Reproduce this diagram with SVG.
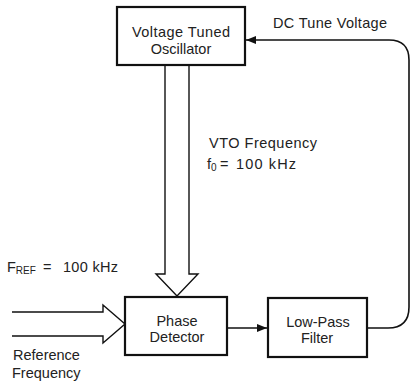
<svg xmlns="http://www.w3.org/2000/svg" width="411" height="381" viewBox="0 0 411 381">
<style>
text{font-family:"Liberation Sans",Arial,sans-serif;font-size:14.5px;fill:#222}
.sub{font-size:10px}
.box{fill:#fff;stroke:#111;stroke-width:2.2}
.line{fill:none;stroke:#111;stroke-width:1.6}
.hollow{fill:none;stroke:#111;stroke-width:1.4;stroke-linejoin:miter}
.c{text-anchor:middle}
</style>
<defs>
<marker id="ah" viewBox="0 0 10 8" refX="10" refY="4" markerWidth="10" markerHeight="8" markerUnits="userSpaceOnUse" orient="auto">
<path d="M0,0 L10,4 L0,8 Z" fill="#111"/>
</marker>
</defs>
<rect width="411" height="381" fill="#fff"/>
<g id="connectors">
<path class="hollow" d="M165,65 V274 H156 L177,296 L198,274 H189 V65"/>
<path class="hollow" d="M12,312 H103 V305 L125,324 L103,343 V336 H12"/>
<path class="line" d="M227,328 H267" marker-end="url(#ah)"/>
<path class="line" d="M367,328 H388 Q409,328 409,307 V60 Q409,40 389,40 H246" marker-end="url(#ah)"/>
</g>
<g id="vto">
<rect class="box" x="117" y="7" width="128" height="58"/>
<text class="c" x="181" y="37" textLength="98" lengthAdjust="spacing">Voltage Tuned</text>
<text class="c" x="181" y="54">Oscillator</text>
</g>
<g id="phase-detector">
<rect class="box" x="125" y="297" width="102" height="58"/>
<text class="c" x="177" y="326">Phase</text>
<text class="c" x="177" y="342">Detector</text>
</g>
<g id="low-pass-filter">
<rect class="box" x="268" y="298" width="99" height="59"/>
<text class="c" x="318" y="327">Low-Pass</text>
<text class="c" x="317" y="343">Filter</text>
</g>
<g id="labels">
<text x="273" y="28" textLength="114" lengthAdjust="spacing">DC Tune Voltage</text>
<text x="209" y="148" textLength="108" lengthAdjust="spacing">VTO Frequency</text>
<text x="207" y="169">f<tspan class="sub" dy="2">0</tspan></text>
<text x="220" y="169">=</text>
<text x="236" y="169" textLength="60" lengthAdjust="spacing">100 kHz</text>
<text x="7" y="272">F<tspan class="sub" dy="2">REF</tspan></text>
<text x="43" y="272">=</text>
<text x="63" y="272" textLength="55" lengthAdjust="spacing">100 kHz</text>
<text x="13" y="360">Reference</text>
<text x="12" y="378">Frequency</text>
</g>
</svg>
